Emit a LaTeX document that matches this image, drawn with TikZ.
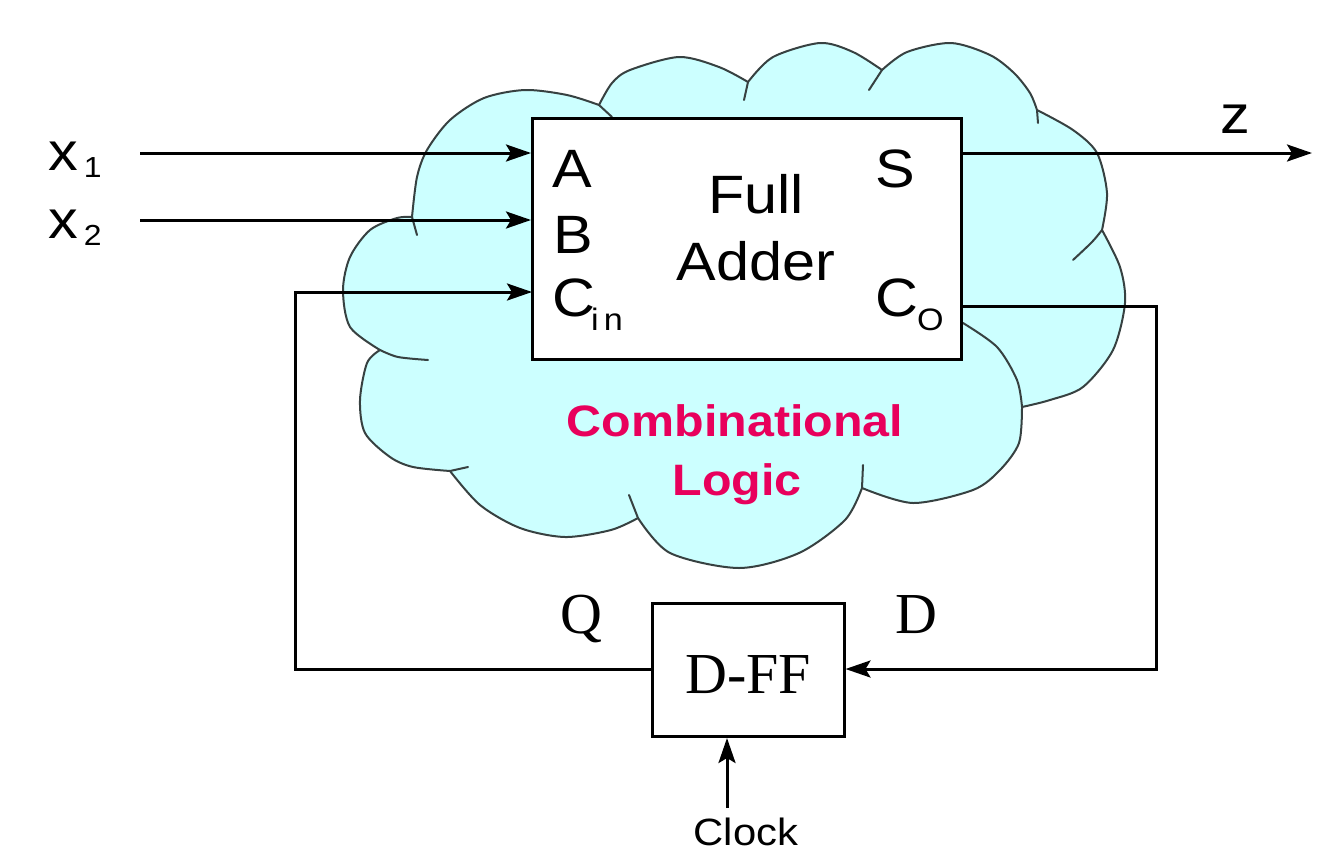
\documentclass[tikz,border=0pt]{standalone}
\usepackage{fontspec}
\newfontfamily\sansf[FakeStretch=1.1]{Liberation Sans}
\newfontfamily\seriff{Liberation Serif}
\usetikzlibrary{arrows.meta}
\definecolor{cloudfill}{RGB}{204,255,255}
\definecolor{cloudline}{RGB}{55,65,65}
\definecolor{pinktext}{RGB}{232,0,92}
\newcommand\subtxt[1]{\raisebox{-14pt}{\fontsize{31}{34}\selectfont #1}}
\begin{document}
\begin{tikzpicture}[x=1pt,y=-1pt,
  wire/.style={line width=3pt},
  arr/.style={wire,-{Stealth[length=25pt,width=17pt,inset=5pt]}},
  blk/.style={draw,line width=3pt,fill=white,inner sep=0pt},
  cloudedge/.style={draw=cloudline,line width=2pt,line join=round,line cap=round},
  big/.style={inner sep=0pt,font=\sansf\fontsize{54}{60}\selectfont},
  comb/.style={inner sep=0pt,text=pinktext,font=\sansf\bfseries\fontsize{44}{50}\selectfont},
  ser/.style={inner sep=0pt,font=\seriff\fontsize{58}{64}\selectfont}]
\useasboundingbox (0,0) rectangle (1333,865);

% cloud
\path[fill=cloudfill,cloudedge]
  plot[smooth] coordinates {(380,350)(350,327)(343,290)(350,257)(370,230)(397,218)(412,217)}
  -- plot[smooth] coordinates {(412,217)(417,177)(427,150)(450,120)(484,98)(525,90)(567,95)(599,105)}
  -- plot[smooth] coordinates {(599,105)(612,83)(630,70)(679,57)(719,67)(748,82)}
  -- plot[smooth] coordinates {(748,82)(773,57)(820,43)(853,52)(882,70)}
  -- plot[smooth] coordinates {(882,70)(907,52)(951,43)(990,55)(1014,73)(1030,93)(1037,110)}
  -- plot[smooth] coordinates {(1037,110)(1073,130)(1097,153)(1107,193)(1102,230)}
  -- plot[smooth] coordinates {(1102,230)(1120,267)(1125,303)(1113,350)(1083,387)(1050,400)(1022,407)}
  -- plot[smooth] coordinates {(1022,407)(1019,443)(1000,470)(973,490)(913,503)(862,488)}
  -- plot[smooth] coordinates {(862,488)(845,520)(799,553)(739,568)(670,553)(638,518)}
  -- plot[smooth] coordinates {(638,518)(611,530)(565,537)(520,528)(480,505)(450,471)}
  -- plot[smooth] coordinates {(450,471)(413,467)(390,457)(365,433)(360,400)(367,363)(380,350)}
  -- cycle;
% inner tails of the cloud
\draw[cloudedge] plot[smooth] coordinates {(380,350)(398,357)(428,360)};
\draw[cloudedge] (412,217) -- (417,235);
\draw[cloudedge] (599,105) -- (612,117);
\draw[cloudedge] (748,82) -- (744,100);
\draw[cloudedge] (882,70) -- (869,90);
\draw[cloudedge] (1037,110) -- (1038,123);
\draw[cloudedge] plot[smooth] coordinates {(1102,230)(1092,242)(1073,260)};
\draw[cloudedge] plot[smooth] coordinates {(1022,407)(1017,380)(997,347)(963,323)};
\draw[cloudedge] (862,488) -- (863,465);
\draw[cloudedge] (638,518) -- (629,495);
\draw[cloudedge] (450,471) -- (468,467);

% blocks
\node[blk,minimum width=429pt,minimum height=241pt] (fa) at (747,239) {};
\node[blk,minimum width=192pt,minimum height=133pt] (dff) at (748,670) {};

% coordinates
\coordinate (x1s) at (140,153);
\coordinate (x2s) at (140,220);
\coordinate (cin) at (532,292);
\coordinate (qc) at (295,669);
\coordinate (zend) at (1312,153);
\coordinate (co) at (962,306);
\coordinate (dc) at (1156,669);
\coordinate (clk) at (727,808);

% wires
\draw[arr] (x1s) -- (fa.west |- x1s);
\draw[arr] (x2s) -- (fa.west |- x2s);
\draw[arr] (dff.west |- qc) -- (qc) |- (cin);
\draw[arr] (fa.east |- zend) -- (zend);
\draw[arr] (fa.east |- co) -| (dc) -- (dff.east |- dc);
\draw[arr] (clk) -- (clk |- dff.south);

% labels
\node[big,anchor=base west] (lx1) at (48,170) {x\kern6pt\raisebox{-7pt}{\fontsize{29}{32}\selectfont 1}};
\node[big,anchor=base west] (lx2) at (48,238) {x\kern6pt\raisebox{-7pt}{\fontsize{29}{32}\selectfont 2}};
\node[big,anchor=base] (lz) at (1235,133) {z};

\node[big,anchor=base west] (la) at (552,187) {A};
\node[big,anchor=base west] (lb) at (553,253) {B};
\node[big,anchor=base west] (lc) at (552,316) {C\kern-4pt\subtxt{i\,n}};
\node[big,anchor=base west] (ls) at (875,187) {S};
\node[big,anchor=base west] (lo) at (875,316) {C\kern-1pt\subtxt{O}};
\node[big,anchor=base] (lfull) at (756,213) {Full};
\node[big,anchor=base] (ladder) at (756,280) {Adder};

\node[comb,anchor=base] (lcomb) at (735,436) {Combinational};
\node[comb,anchor=base] (llogic) at (737,495) {Logic};

\node[ser,anchor=base] (lq) at (581,633) {Q};
\node[ser,anchor=base] (ld) at (916,633) {D};
\node[ser,anchor=base] (ldff) at (748,693) {D-FF};
\node[inner sep=0pt,anchor=base,font=\sansf\fontsize{38}{42}\selectfont] (lclk) at (746,845) {Clock};
\end{tikzpicture}
\end{document}
